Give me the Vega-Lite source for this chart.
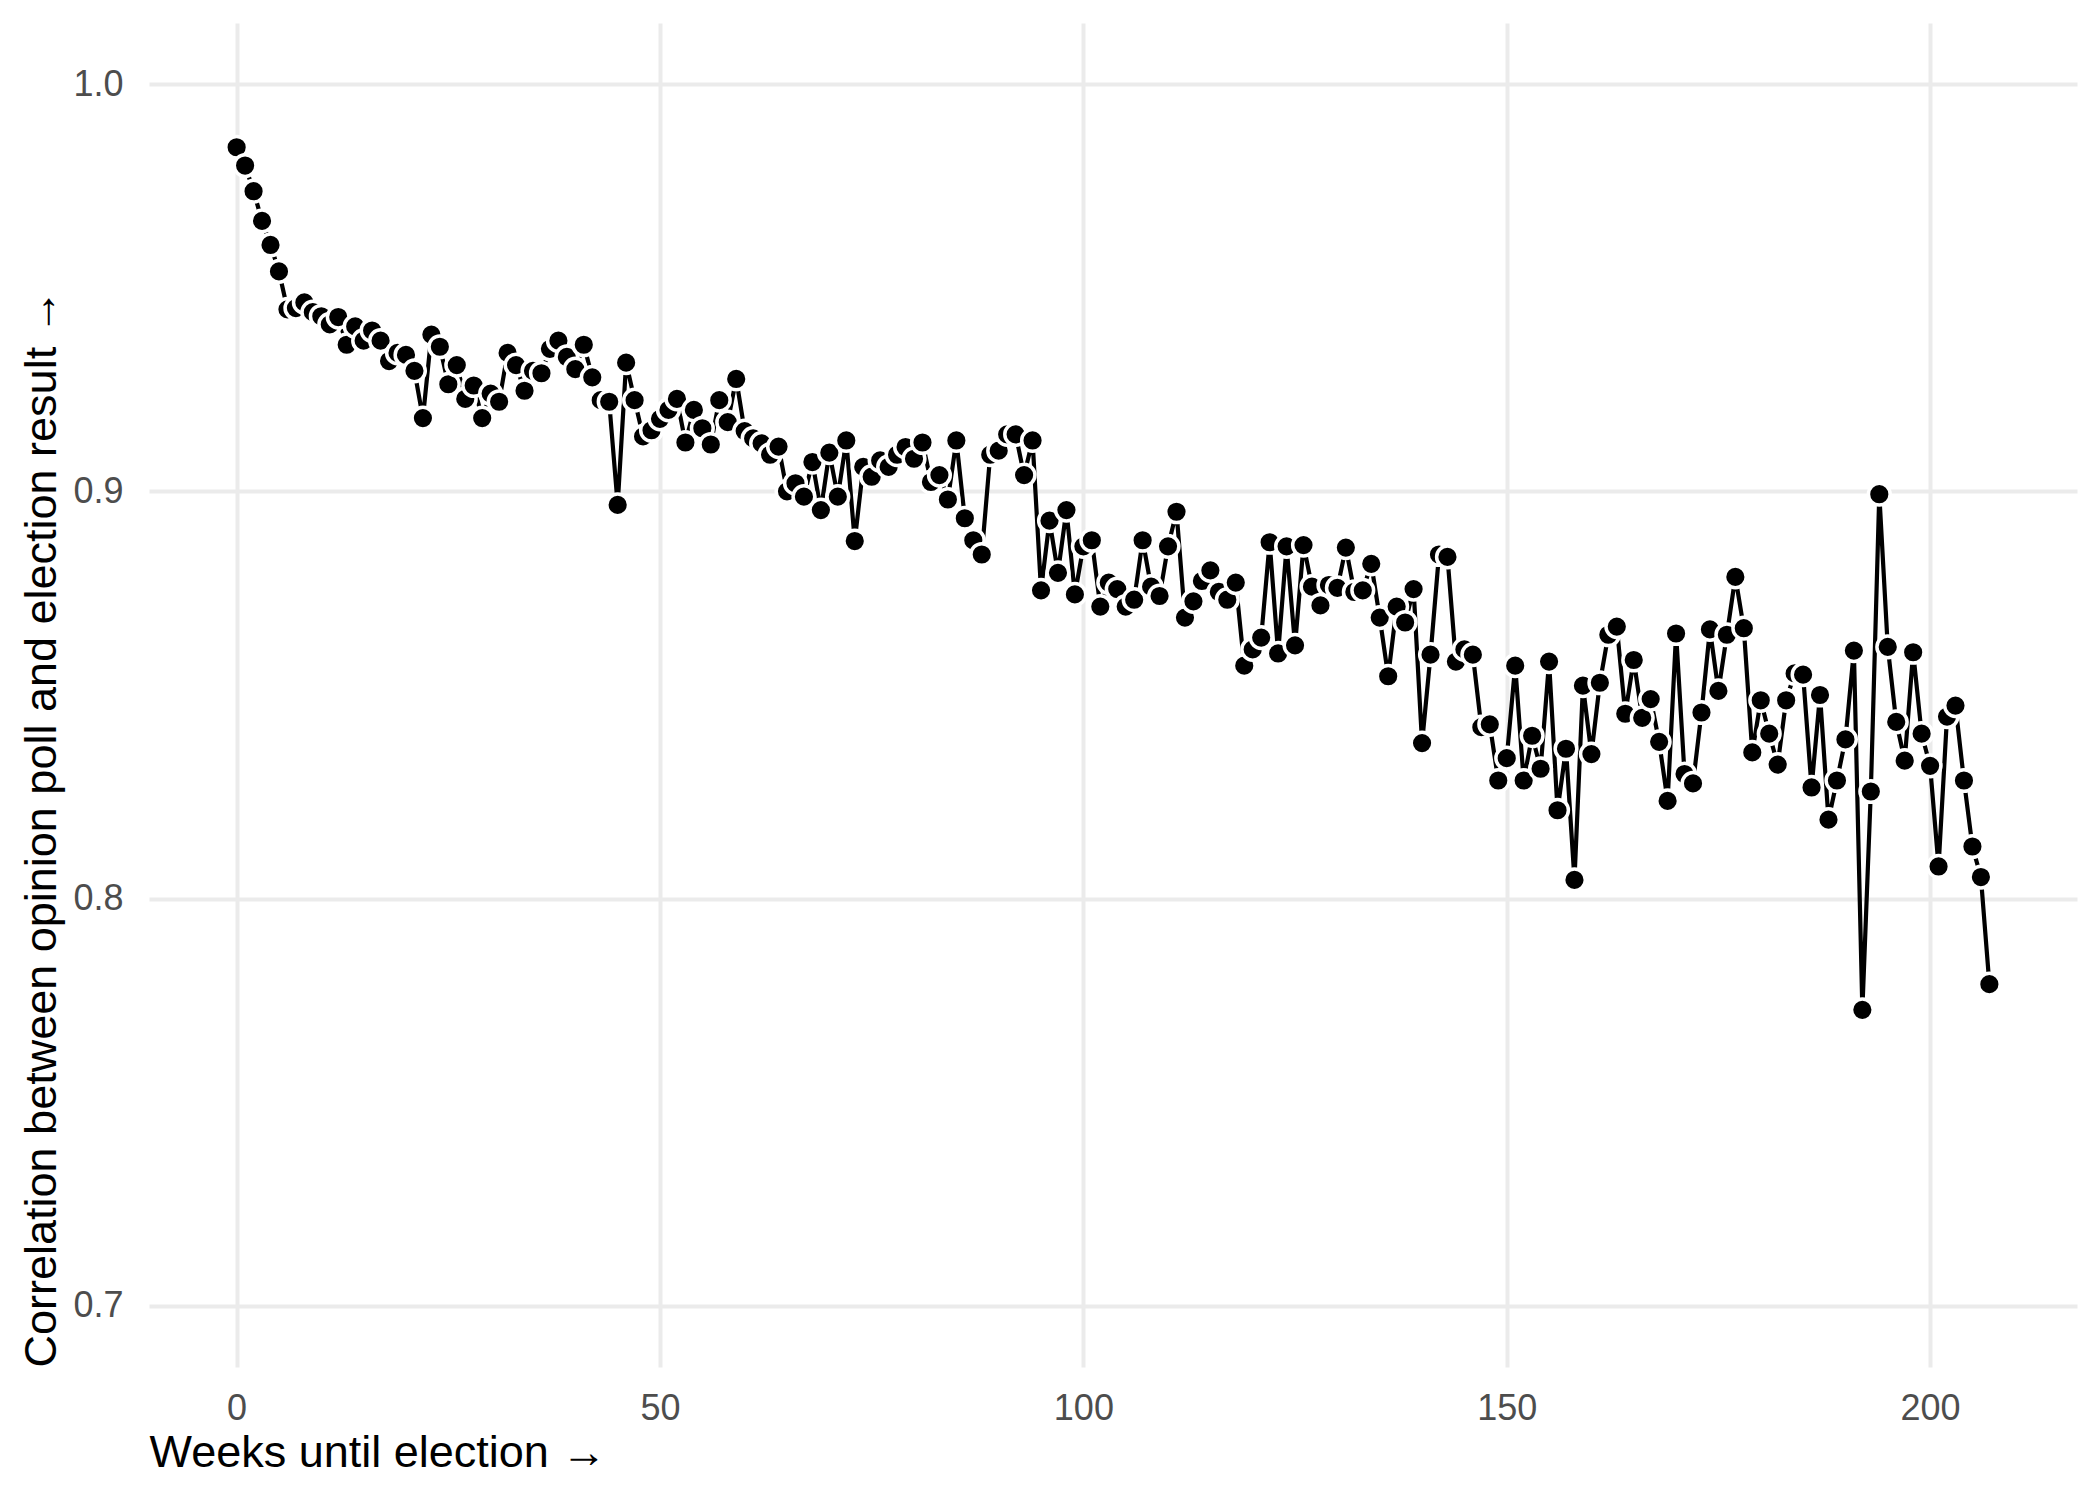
{
  "$schema": "https://vega.github.io/schema/vega-lite/v6.json",
  "width": 1928,
  "height": 1344,
  "autosize": {"type": "none"},
  "padding": {"left": 149, "top": 23, "right": 23, "bottom": 133},
  "background": "white",
  "config": {
    "view": {"stroke": null},
    "font": "Liberation Sans",
    "axis": {
      "domain": false,
      "ticks": false,
      "tickSize": 0,
      "grid": true,
      "gridColor": "#EBEBEB",
      "gridWidth": 4,
      "labelColor": "#4D4D4D",
      "labelFontSize": 36,
      "labelFont": "Liberation Sans",
      "titleFont": "Liberation Sans",
      "titleFontSize": 45,
      "titleFontWeight": "normal",
      "titleColor": "black"
    }
  },
  "data": {
    "values": [
      {"week": 0, "r": 0.9845}, {"week": 1, "r": 0.980}, {"week": 2, "r": 0.9737}, {"week": 3, "r": 0.9664},
      {"week": 4, "r": 0.9605}, {"week": 5, "r": 0.954}, {"week": 6, "r": 0.9447}, {"week": 7, "r": 0.945},
      {"week": 8, "r": 0.9464}, {"week": 9, "r": 0.944}, {"week": 10, "r": 0.943}, {"week": 11, "r": 0.941},
      {"week": 12, "r": 0.9428}, {"week": 13, "r": 0.936}, {"week": 14, "r": 0.9405}, {"week": 15, "r": 0.937},
      {"week": 16, "r": 0.9395}, {"week": 17, "r": 0.937}, {"week": 18, "r": 0.932}, {"week": 19, "r": 0.934},
      {"week": 20, "r": 0.9335}, {"week": 21, "r": 0.9296}, {"week": 22, "r": 0.918}, {"week": 23, "r": 0.9385},
      {"week": 24, "r": 0.9355}, {"week": 25, "r": 0.9263}, {"week": 26, "r": 0.931}, {"week": 27, "r": 0.9227},
      {"week": 28, "r": 0.926}, {"week": 29, "r": 0.918}, {"week": 30, "r": 0.924}, {"week": 31, "r": 0.922},
      {"week": 32, "r": 0.934}, {"week": 33, "r": 0.931}, {"week": 34, "r": 0.9247}, {"week": 35, "r": 0.9296},
      {"week": 36, "r": 0.929}, {"week": 37, "r": 0.935}, {"week": 38, "r": 0.937}, {"week": 39, "r": 0.933},
      {"week": 40, "r": 0.930}, {"week": 41, "r": 0.936}, {"week": 42, "r": 0.928}, {"week": 43, "r": 0.9224},
      {"week": 44, "r": 0.922}, {"week": 45, "r": 0.8967}, {"week": 46, "r": 0.9316}, {"week": 47, "r": 0.9224},
      {"week": 48, "r": 0.9135}, {"week": 49, "r": 0.915}, {"week": 50, "r": 0.9178}, {"week": 51, "r": 0.920},
      {"week": 52, "r": 0.9227}, {"week": 53, "r": 0.912}, {"week": 54, "r": 0.920}, {"week": 55, "r": 0.9155},
      {"week": 56, "r": 0.9115}, {"week": 57, "r": 0.9224}, {"week": 58, "r": 0.917}, {"week": 59, "r": 0.9276},
      {"week": 60, "r": 0.9148}, {"week": 61, "r": 0.913}, {"week": 62, "r": 0.9118}, {"week": 63, "r": 0.909},
      {"week": 64, "r": 0.911}, {"week": 65, "r": 0.900}, {"week": 66, "r": 0.902}, {"week": 67, "r": 0.8987},
      {"week": 68, "r": 0.9072}, {"week": 69, "r": 0.8954}, {"week": 70, "r": 0.9095}, {"week": 71, "r": 0.8987},
      {"week": 72, "r": 0.9125}, {"week": 73, "r": 0.8878}, {"week": 74, "r": 0.906}, {"week": 75, "r": 0.9036},
      {"week": 76, "r": 0.9076}, {"week": 77, "r": 0.906}, {"week": 78, "r": 0.909}, {"week": 79, "r": 0.9109},
      {"week": 80, "r": 0.908}, {"week": 81, "r": 0.912}, {"week": 82, "r": 0.9023}, {"week": 83, "r": 0.904},
      {"week": 84, "r": 0.898}, {"week": 85, "r": 0.9125}, {"week": 86, "r": 0.8934}, {"week": 87, "r": 0.888},
      {"week": 88, "r": 0.8845}, {"week": 89, "r": 0.909}, {"week": 90, "r": 0.910}, {"week": 91, "r": 0.914},
      {"week": 92, "r": 0.914}, {"week": 93, "r": 0.904}, {"week": 94, "r": 0.9125}, {"week": 95, "r": 0.8757},
      {"week": 96, "r": 0.8928}, {"week": 97, "r": 0.880}, {"week": 98, "r": 0.8954}, {"week": 99, "r": 0.8747},
      {"week": 100, "r": 0.8865}, {"week": 101, "r": 0.888}, {"week": 102, "r": 0.8717}, {"week": 103, "r": 0.8776},
      {"week": 104, "r": 0.876}, {"week": 105, "r": 0.8717}, {"week": 106, "r": 0.8734}, {"week": 107, "r": 0.888},
      {"week": 108, "r": 0.8766}, {"week": 109, "r": 0.8743}, {"week": 110, "r": 0.8865}, {"week": 111, "r": 0.895},
      {"week": 112, "r": 0.869}, {"week": 113, "r": 0.873}, {"week": 114, "r": 0.878}, {"week": 115, "r": 0.8806},
      {"week": 116, "r": 0.8753}, {"week": 117, "r": 0.8734}, {"week": 118, "r": 0.8776}, {"week": 119, "r": 0.8572},
      {"week": 120, "r": 0.8612}, {"week": 121, "r": 0.8641}, {"week": 122, "r": 0.8875}, {"week": 123, "r": 0.8602},
      {"week": 124, "r": 0.8865}, {"week": 125, "r": 0.8622}, {"week": 126, "r": 0.8868}, {"week": 127, "r": 0.8766},
      {"week": 128, "r": 0.872}, {"week": 129, "r": 0.877}, {"week": 130, "r": 0.8763}, {"week": 131, "r": 0.8862},
      {"week": 132, "r": 0.8753}, {"week": 133, "r": 0.8757}, {"week": 134, "r": 0.8822}, {"week": 135, "r": 0.869},
      {"week": 136, "r": 0.8546}, {"week": 137, "r": 0.8717}, {"week": 138, "r": 0.8678}, {"week": 139, "r": 0.876},
      {"week": 140, "r": 0.8382}, {"week": 141, "r": 0.8599}, {"week": 142, "r": 0.8845}, {"week": 143, "r": 0.8839},
      {"week": 144, "r": 0.8582}, {"week": 145, "r": 0.8612}, {"week": 146, "r": 0.8599}, {"week": 147, "r": 0.8421},
      {"week": 148, "r": 0.8428}, {"week": 149, "r": 0.829}, {"week": 150, "r": 0.8345}, {"week": 151, "r": 0.8572},
      {"week": 152, "r": 0.829}, {"week": 153, "r": 0.840}, {"week": 154, "r": 0.8319}, {"week": 155, "r": 0.8582},
      {"week": 156, "r": 0.8217}, {"week": 157, "r": 0.8368}, {"week": 158, "r": 0.8046}, {"week": 159, "r": 0.8523},
      {"week": 160, "r": 0.8355}, {"week": 161, "r": 0.853}, {"week": 162, "r": 0.8648}, {"week": 163, "r": 0.8668},
      {"week": 164, "r": 0.8454}, {"week": 165, "r": 0.8586}, {"week": 166, "r": 0.8444}, {"week": 167, "r": 0.849},
      {"week": 168, "r": 0.8385}, {"week": 169, "r": 0.824}, {"week": 170, "r": 0.8651}, {"week": 171, "r": 0.8306},
      {"week": 172, "r": 0.8283}, {"week": 173, "r": 0.8457}, {"week": 174, "r": 0.8661}, {"week": 175, "r": 0.851},
      {"week": 176, "r": 0.8648}, {"week": 177, "r": 0.879}, {"week": 178, "r": 0.8664}, {"week": 179, "r": 0.8359},
      {"week": 180, "r": 0.8487}, {"week": 181, "r": 0.8405}, {"week": 182, "r": 0.8329}, {"week": 183, "r": 0.8487},
      {"week": 184, "r": 0.8553}, {"week": 185, "r": 0.855}, {"week": 186, "r": 0.8273}, {"week": 187, "r": 0.850},
      {"week": 188, "r": 0.8194}, {"week": 189, "r": 0.829}, {"week": 190, "r": 0.8391}, {"week": 191, "r": 0.8609},
      {"week": 192, "r": 0.7727}, {"week": 193, "r": 0.8263}, {"week": 194, "r": 0.8993}, {"week": 195, "r": 0.8618},
      {"week": 196, "r": 0.8434}, {"week": 197, "r": 0.8339}, {"week": 198, "r": 0.8605}, {"week": 199, "r": 0.8405},
      {"week": 200, "r": 0.8326}, {"week": 201, "r": 0.8079}, {"week": 202, "r": 0.8447}, {"week": 203, "r": 0.8474},
      {"week": 204, "r": 0.829}, {"week": 205, "r": 0.8128}, {"week": 206, "r": 0.8053}, {"week": 207, "r": 0.779}
    ]
  },
  "encoding": {
    "x": {
      "field": "week",
      "type": "quantitative",
      "scale": {"domain": [-10.35, 217.35], "nice": false, "zero": false},
      "axis": {
        "values": [0, 50, 100, 150, 200],
        "title": "Weeks until election →",
        "labelPadding": 24,
        "titleAnchor": "start",
        "titleAlign": "left",
        "titleX": 0,
        "titleY": 99,
        "titleBaseline": "alphabetic"
      }
    },
    "y": {
      "field": "r",
      "type": "quantitative",
      "scale": {"domain": [0.685, 1.015], "nice": false, "zero": false},
      "axis": {
        "values": [0.7, 0.8, 0.9, 1.0],
        "format": ".1f",
        "title": "Correlation between opinion poll and election result →",
        "labelPadding": 26,
        "titleAnchor": "start",
        "titleAlign": "left",
        "titleAngle": -90,
        "titleX": -94,
        "titleY": 1344,
        "titleBaseline": "alphabetic"
      }
    }
  },
  "layer": [
    {"mark": {"type": "line", "color": "black", "strokeWidth": 4.2}},
    {"mark": {"type": "point", "filled": true, "fill": "black", "stroke": "white", "strokeWidth": 3.5, "size": 470, "opacity": 1, "strokeOpacity": 1, "fillOpacity": 1}}
  ]
}
